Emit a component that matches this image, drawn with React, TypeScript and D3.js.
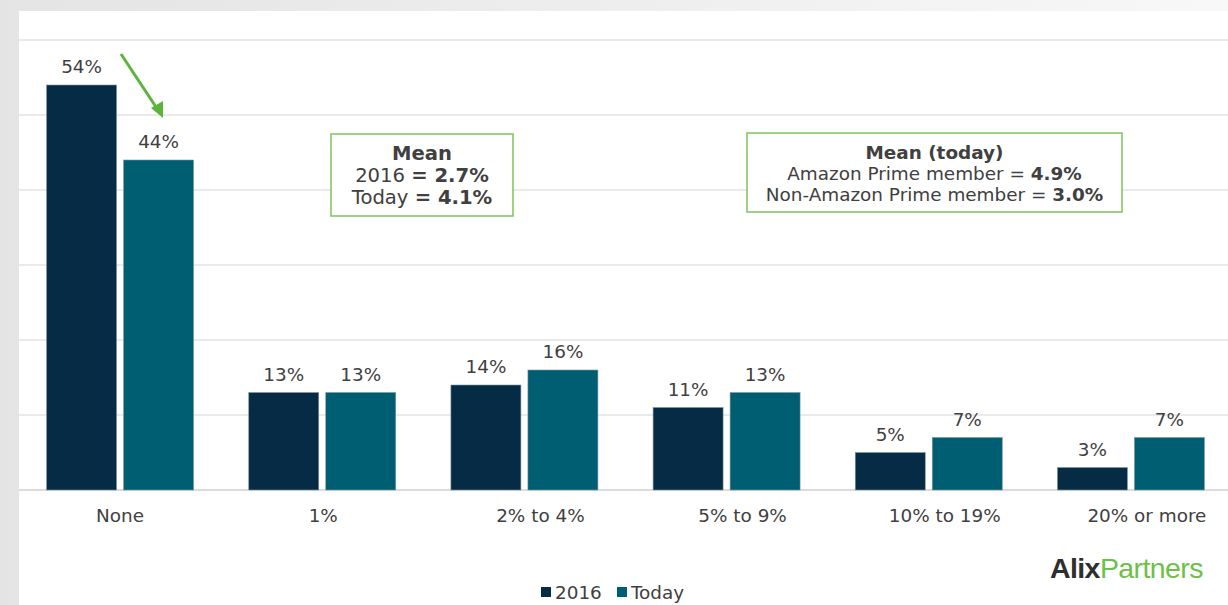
import React from "react";
import * as d3 from "d3";

const categories = ["None", "1%", "2% to 4%", "5% to 9%", "10% to 19%", "20% or more"];
const series = ["2016", "Today"];
const values2016 = [54, 13, 14, 11, 5, 3];
const valuesToday = [44, 13, 16, 13, 7, 7];
const yTicks = [0, 10, 20, 30, 40, 50, 60];
const box1Lines = [["Mean", ""], ["2016 ", "= 2.7%"], ["Today ", "= 4.1%"]];
const box2Lines = [["Mean (today)", ""], ["Amazon Prime member = ", "4.9%"], ["Non-Amazon Prime member = ", "3.0%"]];

const W = 1228;
const H = 605;
const colors = ["#062B44", "#005E73"];
const FONT = "'DejaVu Sans', Verdana, sans-serif";
const FS = 18.4;
const TXT = "#404040";
const GREEN = "#7CC35A";

export default function App() {
  const x0 = d3.scaleBand<string>().domain(categories).range([19, 1232]).paddingInner(0).paddingOuter(0);
  const groupW = 147;
  const x1 = d3.scaleBand<string>().domain(series).range([0, groupW]).paddingInner(7 / 77);
  const y = d3.scaleLinear().domain([0, 60]).range([490, 40]);
  const data = [values2016, valuesToday];

  const renderBox = (lines: string[][], bx: number, by: number, bw: number, bh: number, ys: number[], fs: number) => (
    <g>
      <rect x={bx} y={by} width={bw} height={bh} fill="#fff" stroke={GREEN} strokeWidth={1.5} />
      {lines.map((l, i) => (
        <text key={i} x={bx + bw / 2} y={ys[i]} textAnchor="middle" fontSize={fs} fill={TXT} fontFamily={FONT}>
          {i === 0 ? (
            <tspan fontWeight="bold">{l[0]}</tspan>
          ) : (
            <>
              <tspan>{l[0]}</tspan>
              <tspan fontWeight="bold">{l[1]}</tspan>
            </>
          )}
        </text>
      ))}
    </g>
  );

  return (
    <svg width={W} height={H} style={{ position: "absolute", left: 0, top: 0, display: "block" }}>
      <defs>
        <linearGradient id="lg" x1="0" x2="1" y1="0" y2="0">
          <stop offset="0" stopColor="#e4e4e4" />
          <stop offset="1" stopColor="#f8f8f8" />
        </linearGradient>
      </defs>
      <rect x={0} y={0} width={W} height={H} fill="url(#lg)" />
      <rect x={19} y={11} width={W - 19} height={H - 11} fill="#fff" />

      {yTicks.map((t) => (
        <line key={t} x1={19} x2={W} y1={y(t)} y2={y(t)} stroke={t === 0 ? "#d0d0d0" : "#e3e3e3"} strokeWidth={1.5} />
      ))}

      {categories.map((c, ci) => {
        const gx = (x0(c) as number) + (x0.bandwidth() - groupW) / 2;
        const labelShift = ci >= 2 ? 16 : ci === 1 ? 1 : 0;
        return (
          <g key={c}>
            {series.map((s, si) => {
              const v = data[si][ci];
              const bx = gx + (x1(s) as number);
              return (
                <g key={s}>
                  <rect x={bx} y={y(v)} width={x1.bandwidth()} height={y(0) - y(v)} fill={colors[si]} stroke="#7f96a3" strokeWidth={0.6} />
                  <text x={bx + x1.bandwidth() / 2} y={y(v) - 12} textAnchor="middle" fontSize={FS} fill={TXT} fontFamily={FONT}>
                    {v}%
                  </text>
                </g>
              );
            })}
            <text x={(x0(c) as number) + x0.bandwidth() / 2 + labelShift} y={522} textAnchor="middle" fontSize={FS} fill={TXT} fontFamily={FONT}>
              {c}
            </text>
          </g>
        );
      })}

      <line x1={121} y1={54} x2={158} y2={110} stroke="#5BB53B" strokeWidth={3} />
      <path d="M163,118 L151,108 L163,101 Z" fill="#5BB53B" />

      {renderBox(box1Lines, 331, 134, 182, 82, [160, 182, 204], 19.6)}
      {renderBox(box2Lines, 747, 133, 375, 79, [159, 180, 201], FS)}

      {series.map((s, i) => {
        const lx = i === 0 ? 541 : 617;
        return (
          <g key={s}>
            <rect x={lx} y={587} width={10} height={10} fill={colors[i]} />
            <text x={lx + 14} y={599} fontSize={FS} fill={TXT} fontFamily={FONT}>
              {s}
            </text>
          </g>
        );
      })}

      <text x={1050} y={578} fontSize={28.5} fontFamily="'Liberation Sans', Arial, sans-serif" letterSpacing={-0.6}>
        <tspan fill="#2f2f2f" fontWeight="bold">Alix</tspan>
        <tspan fill="#6CC04A">Partners</tspan>
      </text>
    </svg>
  );
}
